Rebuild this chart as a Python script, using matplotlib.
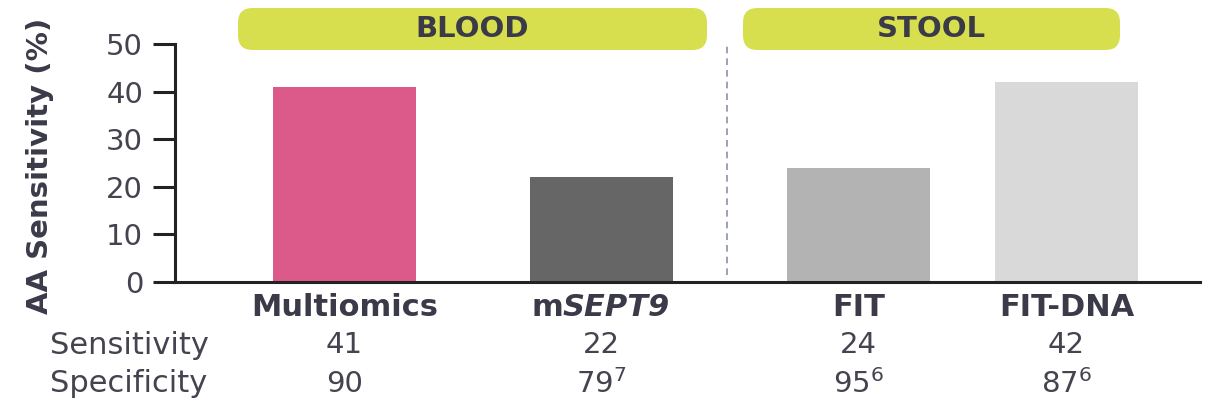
import matplotlib.pyplot as plt
import matplotlib.transforms as mtransforms
from matplotlib.patches import FancyBboxPatch

plt.rcParams['font.family'] = ['DejaVu Sans']
plt.rcParams['mathtext.fontset'] = 'custom'
plt.rcParams['mathtext.rm'] = 'DejaVu Sans'

tests = ['Multiomics', 'mSEPT9', 'FIT', 'FIT-DNA']
sensitivity = [41, 22, 24, 42]
specificity = ['90', r'$\mathregular{79^7}$', r'$\mathregular{95^6}$', r'$\mathregular{87^6}$']
colors = ['#dc5a8a', '#666666', '#b3b3b3', '#d9d9d9']
groups = ['BLOOD', 'STOOL']

xpos = [0, 1, 2, 2.81]
txt = '#3a3a48'

fig = plt.figure(figsize=(12.1, 4.05), dpi=100)
ax = fig.add_axes([175 / 1210, 123 / 405, 1025 / 1210, 238 / 405])

ax.bar(xpos, sensitivity, width=0.556, color=colors)
ax.set_xlim(-0.66, 3.33)
ax.set_ylim(0, 50)
ax.set_yticks([0, 10, 20, 30, 40, 50])
ax.set_xticks([])
for s in ['top', 'right']:
    ax.spines[s].set_visible(False)
for s in ['left', 'bottom']:
    ax.spines[s].set_linewidth(2.2)
    ax.spines[s].set_color('#222222')
ax.tick_params(axis='y', length=16, width=2.2, color='#222222',
               labelsize=21, labelcolor='#444450', pad=7)
ax.set_ylabel('AA Sensitivity (%)', fontsize=21, fontweight='bold',
              color=txt)
ax.yaxis.set_label_coords(-0.118, 0.49)

# dashed separator between blood and stool tests
ax.axvline(1.49, ymin=0.03, ymax=1.0, color='#8a94a6', lw=1.2,
           ls=(0, (4, 3)), clip_on=False)

# group header boxes
for name, (x0, x1) in zip(groups, [(238, 707), (743, 1120)]):
    box = FancyBboxPatch((x0 / 1210, 1 - 50 / 405), (x1 - x0) / 1210, 42 / 405,
                         boxstyle='round,pad=0,rounding_size=0.012',
                         transform=fig.transFigure, facecolor='#d7df4f',
                         edgecolor='none', mutation_aspect=3)
    fig.patches.append(box)
    fig.text((x0 + x1) / 2 / 1210, 1 - 29 / 405, name, ha='center', va='center',
             fontsize=21, fontweight='bold', color=txt)

# table below the axis
trans = mtransforms.blended_transform_factory(ax.transData, fig.transFigure)
y_name, y_sens, y_spec = 1 - 308 / 405, 1 - 345 / 405, 1 - 384 / 405
for x, name, sens, spec in zip(xpos, tests, sensitivity, specificity):
    if name == 'mSEPT9':
        fig.text(x - 0.15, y_name, 'm', transform=trans, ha='right', va='center',
                 fontsize=22, fontweight='bold', color=txt)
        fig.text(x - 0.15, y_name, 'SEPT9', transform=trans, ha='left', va='center',
                 fontsize=22, fontweight='bold', fontstyle='italic', color=txt)
    else:
        fig.text(x, y_name, name, transform=trans, ha='center', va='center',
                 fontsize=22, fontweight='bold', color=txt)
    fig.text(x, y_sens, str(sens), transform=trans, ha='center', va='center',
             fontsize=21, color='#444450')
    fig.text(x, y_spec, spec, transform=trans, ha='center', va='center',
             fontsize=21, color='#444450')

fig.text(50 / 1210, y_sens, 'Sensitivity', ha='left', va='center',
         fontsize=22, color='#444450')
fig.text(50 / 1210, y_spec, 'Specificity', ha='left', va='center',
         fontsize=22, color='#444450')

fig.savefig('out.png', dpi=100)
